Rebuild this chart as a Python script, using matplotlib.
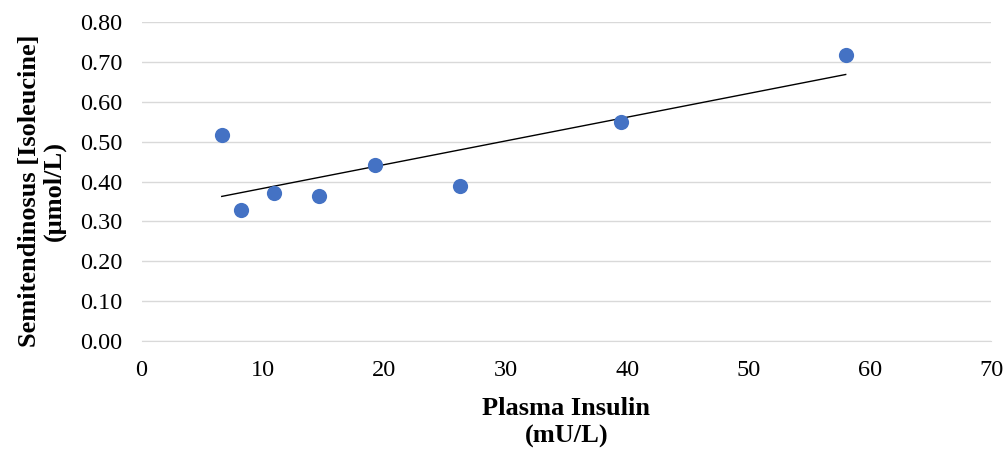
import matplotlib.pyplot as plt
import numpy as np

plt.rcParams['font.family'] = ['Liberation Serif', 'DejaVu Serif']

# values
insulin = [6.6, 8.2, 10.9, 14.6, 19.2, 26.2, 39.5, 58.0]
isoleucine = [0.517, 0.329, 0.371, 0.363, 0.441, 0.390, 0.550, 0.718]
x_ticks = [0, 10, 20, 30, 40, 50, 60, 70]
y_ticks = [0.0, 0.1, 0.2, 0.3, 0.4, 0.5, 0.6, 0.7, 0.8]

fig = plt.figure(figsize=(10.08, 4.54), dpi=100)
ax = fig.add_axes([0.1405, 0.249, 0.843, 0.702])

ax.scatter(insulin, isoleucine, s=120, color='#4472C4', zorder=3, linewidths=0)

# linear trendline across the data range
x = np.array(insulin)
m, b = np.polyfit(x, np.array(isoleucine), 1)
xl = np.array([x.min(), x.max()])
ax.plot(xl, m * xl + b, color='black', lw=1.0, zorder=2)

ax.set_xlim(0, 70)
ax.set_ylim(0, 0.8)
ax.set_xticks(x_ticks)
ax.set_yticks(y_ticks)
ax.set_yticklabels(['%.2f' % v for v in y_ticks])
ax.tick_params(axis='both', length=0, labelsize=17.5)
ax.tick_params(axis='y', pad=14)
ax.tick_params(axis='x', pad=14)
ax.grid(axis='y', color='#D9D9D9', lw=1.0)
ax.set_axisbelow(True)
for s in ['top', 'right', 'left']:
    ax.spines[s].set_visible(False)
ax.spines['bottom'].set_color('#D9D9D9')

ax.set_xlabel('Plasma Insulin\n(mU/L)', fontsize=19, fontweight='bold', labelpad=11, linespacing=1.25)
ax.set_ylabel('Semitendinosus [Isoleucine]\n(μmol/L)', fontsize=19, fontweight='bold', linespacing=1.1)
ax.yaxis.set_label_coords(-0.089, 0.47)

fig.savefig('out.png', dpi=100)
